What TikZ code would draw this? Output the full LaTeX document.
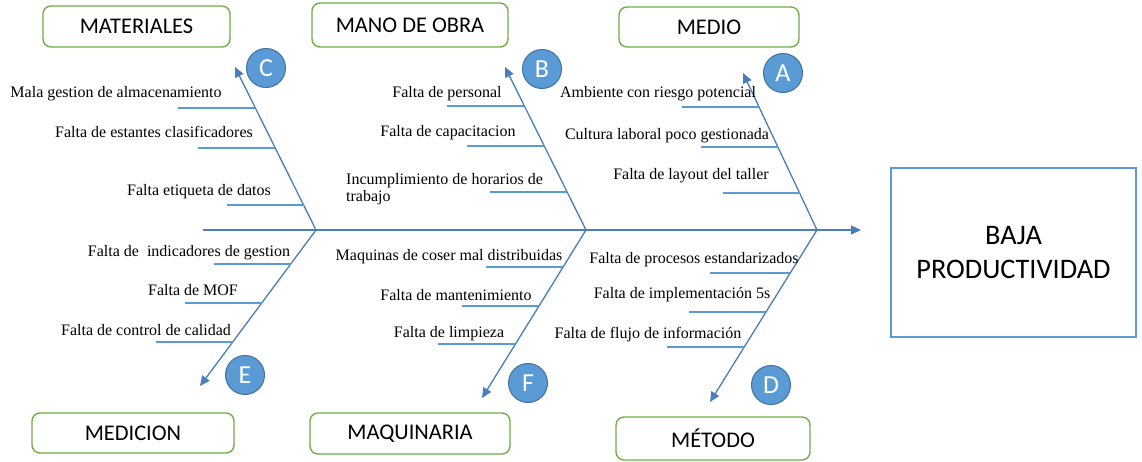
\documentclass[tikz,border=0pt]{standalone}
\usepackage{fontspec}
\setmainfont{Liberation Serif}
\newfontfamily\boxfont{Carlito}
\usetikzlibrary{arrows.meta,calc}

\definecolor{bone}{HTML}{4A7EBB}
\definecolor{twig}{HTML}{5B9BD5}
\definecolor{catgreen}{HTML}{70AD47}
\definecolor{dotfill}{HTML}{5B9BD5}
\definecolor{dotdraw}{HTML}{41719C}

\begin{document}
\begin{tikzpicture}[x=1pt,y=-1pt,>={Triangle[length=10pt,width=9pt]},
                    bone line/.style={draw=bone,line width=1.3pt},
                    twig line/.style={draw=twig,line width=1.2pt},
                    cat node/.style={draw=catgreen,line width=1.4pt,rounded corners=8pt,inner sep=0pt,
                                     font=\boxfont\fontsize{22.4}{26}\selectfont},
                    cause node/.style={inner sep=0pt,font=\fontsize{16}{17}\selectfont},
                    letter node/.style={circle,fill=dotfill,draw=dotdraw,line width=1pt,minimum size=39pt,
                                        inner sep=0pt,text=white,font=\boxfont\fontsize{26}{26}\selectfont}]
  \useasboundingbox (0,0) rectangle (1142,461);

  % effect
  \node[draw=twig,line width=1.4pt,minimum width=245pt,minimum height=169pt,align=center,
        font=\boxfont\fontsize{28.3}{34}\selectfont] (effect) at (1013.5,252.5) {BAJA\\PRODUCTIVIDAD};

  % categories
  \node[cat node,minimum width=187pt,minimum height=41pt] (mat) at (136.5,26.5) {MATERIALES};
  \node[cat node,minimum width=196pt,minimum height=44pt] (mano) at (410,25) {MANO DE OBRA};
  \node[cat node,minimum width=180pt,minimum height=40pt] (medio) at (709,27) {MEDIO};
  \node[cat node,minimum width=202pt,minimum height=40pt] (medic) at (133,433) {MEDICION};
  \node[cat node,minimum width=200pt,minimum height=41pt] (maq) at (410,433.5) {MAQUINARIA};
  \node[cat node,minimum width=194pt,minimum height=43pt] (metodo) at (713,438.5) {MÉTODO};

  % spine and bones
  \coordinate (tail) at (203,230);
  \coordinate (head) at (861,230);
  \coordinate (jA) at (817,230);
  \coordinate (jB) at (586,230);
  \coordinate (jC) at (316,230);
  \coordinate (tA) at (743,73);
  \coordinate (tB) at (505,67);
  \coordinate (tC) at (235,67);
  \coordinate (tD) at (710,402);
  \coordinate (tE) at (200,386);
  \coordinate (tF) at (482,398);
  \draw[bone line,->] (tail) -- (head);
  \draw[bone line,->] (jA) -- (tA);
  \draw[bone line,->] (jB) -- (tB);
  \draw[bone line,->] (jC) -- (tC);
  \draw[bone line,->] (jA) -- (tD);
  \draw[bone line,->] (jC) -- (tE);
  \draw[bone line,->] (jB) -- (tF);

  \node[letter node] (lA) at (783,73) {A};
  \node[letter node] (lB) at (542,69) {B};
  \node[letter node] (lC) at (266,68) {C};
  \node[letter node] (lD) at (771,385) {D};
  \node[letter node] (lE) at (245,375) {E};
  \node[letter node] (lF) at (528,383) {F};

  % twigs on each bone
  \coordinate (a1) at ($(jA)!0.783!(tA)$);
  \coordinate (a2) at ($(jA)!0.529!(tA)$);
  \coordinate (a3) at ($(jA)!0.236!(tA)$);
  \coordinate (b1) at ($(jB)!0.761!(tB)$);
  \coordinate (b2) at ($(jB)!0.515!(tB)$);
  \coordinate (b3) at ($(jB)!0.233!(tB)$);
  \coordinate (c1) at ($(jC)!0.748!(tC)$);
  \coordinate (c2) at ($(jC)!0.503!(tC)$);
  \coordinate (c3) at ($(jC)!0.153!(tC)$);
  \coordinate (d1) at ($(jA)!0.250!(tD)$);
  \coordinate (d2) at ($(jA)!0.477!(tD)$);
  \coordinate (d3) at ($(jA)!0.680!(tD)$);
  \coordinate (e1) at ($(jC)!0.218!(tE)$);
  \coordinate (e2) at ($(jC)!0.468!(tE)$);
  \coordinate (e3) at ($(jC)!0.718!(tE)$);
  \coordinate (f1) at ($(jB)!0.220!(tF)$);
  \coordinate (f2) at ($(jB)!0.452!(tF)$);
  \coordinate (f3) at ($(jB)!0.679!(tF)$);
  \coordinate (a1e) at ([xshift=-77pt]a1);
  \coordinate (a2e) at ([xshift=-77pt]a2);
  \coordinate (a3e) at ([xshift=-77pt]a3);
  \coordinate (b1e) at ([xshift=-77pt]b1);
  \coordinate (b2e) at ([xshift=-77pt]b2);
  \coordinate (b3e) at ([xshift=-77pt]b3);
  \coordinate (c1e) at ([xshift=-77pt]c1);
  \coordinate (c2e) at ([xshift=-77pt]c2);
  \coordinate (c3e) at ([xshift=-77pt]c3);
  \coordinate (d1e) at ([xshift=-80pt]d1);
  \coordinate (d2e) at ([xshift=-77pt]d2);
  \coordinate (d3e) at ([xshift=-77pt]d3);
  \coordinate (e1e) at ([xshift=-77pt]e1);
  \coordinate (e2e) at ([xshift=-77pt]e2);
  \coordinate (e3e) at ([xshift=-77pt]e3);
  \coordinate (f1e) at ([xshift=-77pt]f1);
  \coordinate (f2e) at ([xshift=-77pt]f2);
  \coordinate (f3e) at ([xshift=-77pt]f3);
  \draw[twig line] (a1e) -- (a1);
  \draw[twig line] (a2e) -- (a2);
  \draw[twig line] (a3e) -- (a3);
  \draw[twig line] (b1e) -- (b1);
  \draw[twig line] (b2e) -- (b2);
  \draw[twig line] (b3e) -- (b3);
  \draw[twig line] (c1e) -- (c1);
  \draw[twig line] (c2e) -- (c2);
  \draw[twig line] (c3e) -- (c3);
  \draw[twig line] (d1e) -- (d1);
  \draw[twig line] (d2e) -- (d2);
  \draw[twig line] (d3e) -- (d3);
  \draw[twig line] (e1e) -- (e1);
  \draw[twig line] (e2e) -- (e2);
  \draw[twig line] (e3e) -- (e3);
  \draw[twig line] (f1e) -- (f1);
  \draw[twig line] (f2e) -- (f2);
  \draw[twig line] (f3e) -- (f3);

  % causes
  \node[cause node] (ca1) at (658,94) {Ambiente con riesgo potencial};
  \node[cause node] (ca2) at (667,136) {Cultura laboral poco gestionada};
  \node[cause node] (ca3) at (691,176) {Falta de layout del taller};
  \node[cause node] (cb1) at (447,94) {Falta de personal};
  \node[cause node] (cb2) at (448,133) {Falta de capacitacion};
  \node[cause node,anchor=west,align=left] (cb3) at (346,189) {Incumplimiento de horarios de\\trabajo};
  \node[cause node] (cc1) at (116,94) {Mala gestion de almacenamiento};
  \node[cause node] (cc2) at (154,132) {Falta de estantes clasificadores};
  \node[cause node] (cc3) at (199,192) {Falta etiqueta de datos};
  \node[cause node] (cd1) at (694,260) {Falta de procesos estandarizados};
  \node[cause node] (cd2) at (682,295) {Falta de implementación 5s};
  \node[cause node] (cd3) at (648,335) {Falta de flujo de información};
  \node[cause node] (ce1) at (189,253) {Falta de \ indicadores de gestion};
  \node[cause node] (ce2) at (193,290) {Falta de MOF};
  \node[cause node] (ce3) at (146,330) {Falta de control de calidad};
  \node[cause node] (cf1) at (449,257) {Maquinas de coser mal distribuidas};
  \node[cause node] (cf2) at (456,295) {Falta de mantenimiento};
  \node[cause node] (cf3) at (449,334) {Falta de limpieza};
\end{tikzpicture}
\end{document}
